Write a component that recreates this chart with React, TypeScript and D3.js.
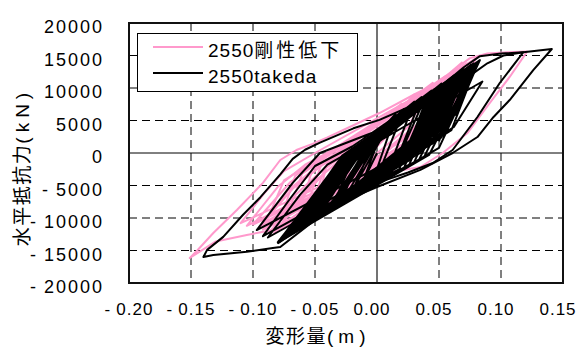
import React from 'react';
import * as d3 from 'd3';

type Pt = [number, number];

const xTicks = [-0.2, -0.15, -0.1, -0.05, 0, 0.05, 0.1, 0.15];
const yTicks = [-20000, -15000, -10000, -5000, 0, 5000, 10000, 15000, 20000];
const seriesNames = ['2550剛性低下', '2550takeda'];
const seriesColors = ['#ff99cc', '#000000'];

// 剛性低下 model, displacement (m) / force (kN)
const pinkInner: Pt[] = [
  [0.0, 0],
  [-0.03, -6500], [-0.02, -1500], [0.03, 9000], [0.01, 3000],
  [-0.05, -9000], [-0.04, -1500], [0.045, 10800], [0.025, 4000],
  [-0.065, -10500], [-0.052, -2500], [0.06, 12200], [0.038, 4500],
  [-0.08, -11500], [-0.066, -3500], [0.07, 13500], [0.05, 5500],
  [-0.092, -11800], [-0.075, -4200], [0.08, 14600], [0.06, 6500],
  [-0.075, -11000], [-0.06, -3000], [0.055, 11800], [0.035, 4800],
  [-0.06, -10000], [-0.045, -1800], [0.075, 14000], [0.052, 6200],
  [-0.04, -8000], [-0.028, -1000], [0.065, 13000], [0.04, 5200],
  [-0.055, -9500], [-0.042, -2200], [0.02, 7600], [0.002, 2000],
];

const pinkStripes: Pt[] = [
  [0.03, 1000],
  [-0.1, -11000], [-0.07, -4500], [-0.04, -500], [0.05, 10800], [0.03, 1500],
  [-0.095, -11400], [-0.068, -5500], [-0.045, -2000], [-0.02, 800], [0.062, 12600], [0.04, 2500],
  [-0.09, -11700], [-0.066, -6500], [-0.048, -3300], [-0.025, 0], [0.072, 13800], [0.05, 4000],
  [-0.086, -12000], [-0.064, -7200], [-0.05, -4300], [-0.03, -1200], [0.045, 10000], [0.025, 1000],
  [-0.083, -12300], [-0.06, -6800], [-0.042, -3000], [-0.015, 1200], [0.068, 13200], [0.045, 3000],
  [-0.105, -11200], [-0.08, -5200], [-0.058, -1800], [-0.03, 1000], [0.078, 14300], [0.055, 4500],
  [-0.092, -10800], [-0.072, -5800], [-0.052, -2600], [0.055, 11700], [0.035, 2000],
  [-0.11, -10800], [-0.09, -6000], [-0.075, -2800], [-0.05, 0], [0.04, 9600],
];

const pinkOuter: Pt[] = [
  [0.04, 9600],
  [0.051, 11230], [0.075, 14600], [0.089, 15300], [0.105, 15500], [0.121, 15600],
  [0.107, 11700], [0.091, 7700], [0.073, 3080], [0.053, 0], [0.035, -2150],
  [0.0, -3300], [-0.014, -4700], [-0.04, -7600], [-0.065, -10600], [-0.084, -11850],
  [-0.105, -12600], [-0.13, -13600], [-0.151, -16150],
  [-0.145, -15000], [-0.132, -12300], [-0.113, -8770], [-0.092, -4600], [-0.078, -1080],
  [-0.065, 460], [-0.052, 1400], [-0.04, 2400], [-0.022, 4000], [0.002, 6150],
  [0.03, 9000], [0.05, 10900], [0.069, 14000],
];

// takeda model: cycles inside the dense band
const blackCycles: Pt[] = [
  [0.0, 0],
  [-0.012, -4700], [0.005, 3900], [0.015, 6000], [-0.002, -3600],
  [-0.02, -6000], [0.0, 3000], [0.022, 6800], [0.0, -3800],
  [-0.028, -7000], [-0.008, 1900], [0.03, 7900], [0.008, -3200],
  [-0.035, -7700], [-0.015, 900], [0.036, 8600], [0.012, -2900],
  [-0.042, -8500], [-0.022, 0], [0.042, 9300], [0.018, -2500],
  [-0.048, -9300], [-0.026, -500], [0.048, 10000], [0.022, -2200],
  [-0.055, -10300], [-0.03, -1100], [0.054, 10600], [0.026, -1800],
  [-0.062, -11300], [-0.034, -2200], [0.06, 11200], [0.03, -1400],
  [-0.068, -12100], [-0.038, -3400], [0.066, 11800], [0.034, -1000],
  [-0.074, -13000], [-0.04, -4000], [0.072, 12400], [0.038, -600],
  [-0.078, -13500], [-0.044, -5200], [0.078, 13300], [0.042, -300],
  [-0.08, -13800], [-0.03, -1100], [0.083, 14300], [0.05, 800],
  [-0.076, -13200], [-0.025, -300], [0.07, 12300], [0.045, 3000],
  [-0.07, -12300], [-0.02, 300], [0.064, 11600], [0.035, 500],
  [-0.065, -11700], [-0.028, -700], [0.076, 13000], [0.055, 4000],
  [-0.058, -10800], [-0.012, 1400], [0.058, 11000], [0.03, 800],
  [-0.05, -9600], [-0.015, 800], [0.068, 12000], [0.04, 1800],
  [-0.045, -8900], [-0.005, 2200], [0.05, 10200], [0.025, -400],
  [-0.072, -12600], [-0.033, -2000], [0.085, 11000], [0.062, 4000],
  [-0.038, -8100], [-0.002, 2600], [0.074, 12800], [0.05, 3500],
  [-0.079, -13600], [-0.036, -3000], [0.062, 11400], [0.034, 1500],
  [-0.066, -11900], [-0.024, -100], [0.08, 13600], [0.06, 5600],
  [-0.03, -7000], [0.004, 3500], [0.06, 11100], [0.035, 1800],
  [-0.062, -11200], [-0.018, 600], [0.044, 9600], [0.02, -1000],
  [-0.075, -13000], [-0.042, -4500], [0.056, 10800], [0.028, -900],
  [-0.054, -10200], [-0.02, 0], [0.072, 12600], [0.052, 3600],
  [-0.025, -6500], [0.008, 4200], [0.052, 10300], [0.03, 1000],
  [-0.068, -12000], [-0.03, -1500], [0.048, 9900], [0.03, 2200],
  [-0.044, -8900], [-0.01, 1500], [0.078, 13500], [0.058, 5200],
  [-0.078, -13400], [-0.038, -3800], [0.067, 12000], [0.045, 2200],
  [-0.06, -11000], [-0.026, -800], [0.04, 9000], [0.015, -1800],
  [-0.035, -7900], [0.0, 2800], [0.064, 11500], [0.042, 3000],
  [-0.07, -12500], [-0.034, -2500], [0.075, 13200], [0.04, 1200],
  [-0.052, -10000], [-0.016, 900], [0.06, 11300], [0.038, 2800],
  [-0.08, -13700], [-0.044, -5000], [0.07, 12600], [0.052, 5000],
  [-0.048, -9500], [-0.008, 1800], [0.082, 14000], [0.064, 6000],
  [-0.064, -11600], [-0.028, -1000], [0.054, 10500], [0.036, 3400],
  [-0.02, -5800], [0.01, 4500], [0.046, 9600], [0.026, 1200],
  [-0.074, -12800], [-0.032, -1800], [0.08, 13800], [0.056, 3200],
  [-0.057, -10600], [-0.022, -200], [0.066, 12200], [0.044, 4200],
  [-0.05, -9800], [-0.012, 1000], [0.07, 12800], [0.048, 2600],
  [-0.066, -12000], [-0.02, 500], [0.058, 11300], [0.04, 4000],
  [-0.04, -8400], [0.005, 3200], [0.076, 13600], [0.052, 2400],
  [-0.075, -13100], [-0.028, -400], [0.068, 12500], [0.05, 4800],
  [-0.058, -10800], [-0.016, 1100], [0.081, 13900], [0.06, 3500],
  [-0.032, -7500], [0.006, 3800], [0.062, 11900], [0.044, 3800],
  [-0.07, -12400], [-0.036, -3000], [0.052, 10700], [0.034, 2600],
  [-0.046, -9200], [-0.01, 2000], [0.072, 13000], [0.056, 5400],
  [-0.078, -13600], [-0.04, -4200], [0.064, 12100], [0.046, 4400],
  [-0.062, -11400], [-0.024, -300], [0.078, 13800], [0.054, 2800],
  [-0.036, -8000], [-0.004, 2400], [0.056, 11000], [0.03, -200],
  [-0.072, -12800], [-0.03, -1200], [0.07, 12900], [0.05, 1800],
];

// takeda model: second largest loop
const blackLoop2: Pt[] = [
  [-0.078, -13500], [-0.035, -2600], [0.02, 6200], [0.05, 10000], [0.07, 13200],
  [0.083, 14900], [0.1, 15300], [0.118, 15500], [0.099, 10770], [0.081, 5540],
  [0.061, 460], [0.045, -1540], [0.025, -3000], [0.0, -4600], [-0.03, -7800],
  [-0.06, -11300], [-0.08, -13900],
];

// takeda model: reloading lines from the left tips
const blackStripes: Pt[] = [
  [0.03, 600], [-0.038, -6000], [-0.097, -11850], [-0.068, -4600], [-0.046, 0],
  [0.002, 3540], [0.045, 8800], [0.073, 13000], [0.045, 1500],
  [-0.092, -12800], [-0.07, -7000], [-0.05, -2000], [-0.02, 1000], [0.06, 11500],
  [0.035, 0], [-0.088, -13000], [-0.062, -6400], [-0.04, -1800], [0.0, 2500], [0.076, 13500],
];

// takeda model: largest loop
const blackOuter: Pt[] = [
  [0.045, 9700], [0.061, 10500], [0.075, 11900], [0.089, 13800], [0.102, 15000],
  [0.118, 15500], [0.141, 16000],
  [0.126, 12750], [0.107, 8150], [0.094, 5540], [0.081, 2460], [0.061, 0],
  [0.035, -2600], [0.0, -5230], [-0.019, -6770], [-0.046, -9850], [-0.052, -10600],
  [-0.078, -14460], [-0.084, -14600], [-0.105, -15200], [-0.132, -15700], [-0.14, -16000],
  [-0.137, -14900], [-0.124, -12900], [-0.108, -9500], [-0.094, -6800], [-0.078, -3300],
  [-0.068, -900], [-0.058, 500], [-0.046, 1600], [-0.019, 3800], [0.002, 5100],
  [0.035, 7850], [0.061, 9700], [0.075, 11700],
];

const series: { data: Pt[]; color: string }[] = [
  { data: pinkInner, color: seriesColors[0] },
  { data: pinkStripes, color: seriesColors[0] },
  { data: pinkOuter, color: seriesColors[0] },
  { data: blackCycles, color: seriesColors[1] },
  { data: blackLoop2, color: seriesColors[1] },
  { data: blackStripes, color: seriesColors[1] },
  { data: blackOuter, color: seriesColors[1] },
];

const plot = { left: 129, right: 563, top: 23, bottom: 283 };
const font = "'Liberation Sans', Arial, 'Noto Sans CJK JP', sans-serif";

export default function App() {
  const x = d3.scaleLinear().domain([-0.2, 0.15]).range([plot.left, plot.right]);
  const y = d3.scaleLinear().domain([-20000, 20000]).range([plot.bottom, plot.top]);
  const line = d3.line<Pt>().x((d) => x(d[0])).y((d) => y(d[1]));
  const fmt = d3.format('.2f');

  return (
    <div style={{ position: 'absolute', left: 0, top: 0 }}>
      <svg width={581} height={347} style={{ display: 'block', fontFamily: font }}>
        <rect width={581} height={347} fill="#fff" />
        <defs>
          <clipPath id="plotClip">
            <rect x={plot.left} y={plot.top} width={plot.right - plot.left} height={plot.bottom - plot.top} />
          </clipPath>
        </defs>

        {/* grid */}
        {xTicks.slice(1, -1).map((t) => (
          <line
            key={'gx' + t}
            x1={x(t)} x2={x(t)} y1={plot.top} y2={plot.bottom}
            stroke={t === 0 ? '#444' : '#000'}
            strokeWidth={t === 0 ? 1.5 : 1}
            strokeDasharray={t === 0 ? undefined : '8,5'}
          />
        ))}
        {yTicks.slice(1, -1).map((t) => (
          <line
            key={'gy' + t}
            x1={plot.left} x2={plot.right} y1={y(t)} y2={y(t)}
            stroke="#000"
            strokeWidth={1}
            strokeDasharray={t === 0 ? undefined : '8,5'}
          />
        ))}

        {/* series */}
        <g clipPath="url(#plotClip)">
          {series.map((s, i) => (
            <path key={i} d={line(s.data) ?? ''} fill="none" stroke={s.color} strokeWidth={2} strokeLinejoin="round" />
          ))}
        </g>

        {/* frame */}
        <rect
          x={plot.left} y={plot.top} width={plot.right - plot.left} height={plot.bottom - plot.top}
          fill="none" stroke="#111" strokeWidth={2}
        />

        {/* y tick labels */}
        {yTicks.map((t) => (
          <text key={'ty' + t} x={104} y={y(t) + 10} textAnchor="end" fontSize={18} letterSpacing={2} fill="#000">
            {t < 0 ? <tspan>-</tspan> : null}
            <tspan dx={t < 0 ? 6 : 0}>{String(Math.abs(t))}</tspan>
          </text>
        ))}

        {/* x tick labels */}
        {xTicks.map((t) => (
          <text key={'tx' + t} x={x(t) + (t < 0 ? 0 : -5)} y={315} textAnchor="middle" fontSize={17} letterSpacing={1} fill="#000">
            {t < 0 ? <tspan>-</tspan> : null}
            <tspan dx={t < 0 ? 5 : 0}>{fmt(Math.abs(t))}</tspan>
          </text>
        ))}

        {/* axis titles */}
        <text x={318} y={343} textAnchor="middle" fontSize={19} fill="#000">
          <tspan letterSpacing={1.5}>変形量</tspan>
          <tspan letterSpacing={5}>(m)</tspan>
        </text>
        <text transform="translate(29,167) rotate(-90)" textAnchor="middle" fontSize={19} fill="#000">
          <tspan letterSpacing={1.5}>水平抵抗力</tspan>
          <tspan letterSpacing={5}>(kN)</tspan>
        </text>

        {/* legend */}
        <rect x={137.5} y={33.5} width={220} height={58} fill="#fff" stroke="#000" strokeWidth={1} />
        {seriesNames.map((name, i) => {
          const ly = 47 + i * 26;
          const m = name.match(/^(\d+)(.*)$/);
          const num = m ? m[1] : name;
          const rest = m ? m[2] : '';
          const cjk = /[^\x00-\x7f]/.test(rest);
          return (
            <g key={name}>
              <line x1={153} x2={203} y1={ly} y2={ly} stroke={seriesColors[i]} strokeWidth={2} />
              <text x={208} y={ly + 10} fontSize={19} fill="#000">
                <tspan letterSpacing={1}>{num}</tspan>
                <tspan letterSpacing={cjk ? 3 : 1}>{rest}</tspan>
              </text>
            </g>
          );
        })}
      </svg>
    </div>
  );
}
